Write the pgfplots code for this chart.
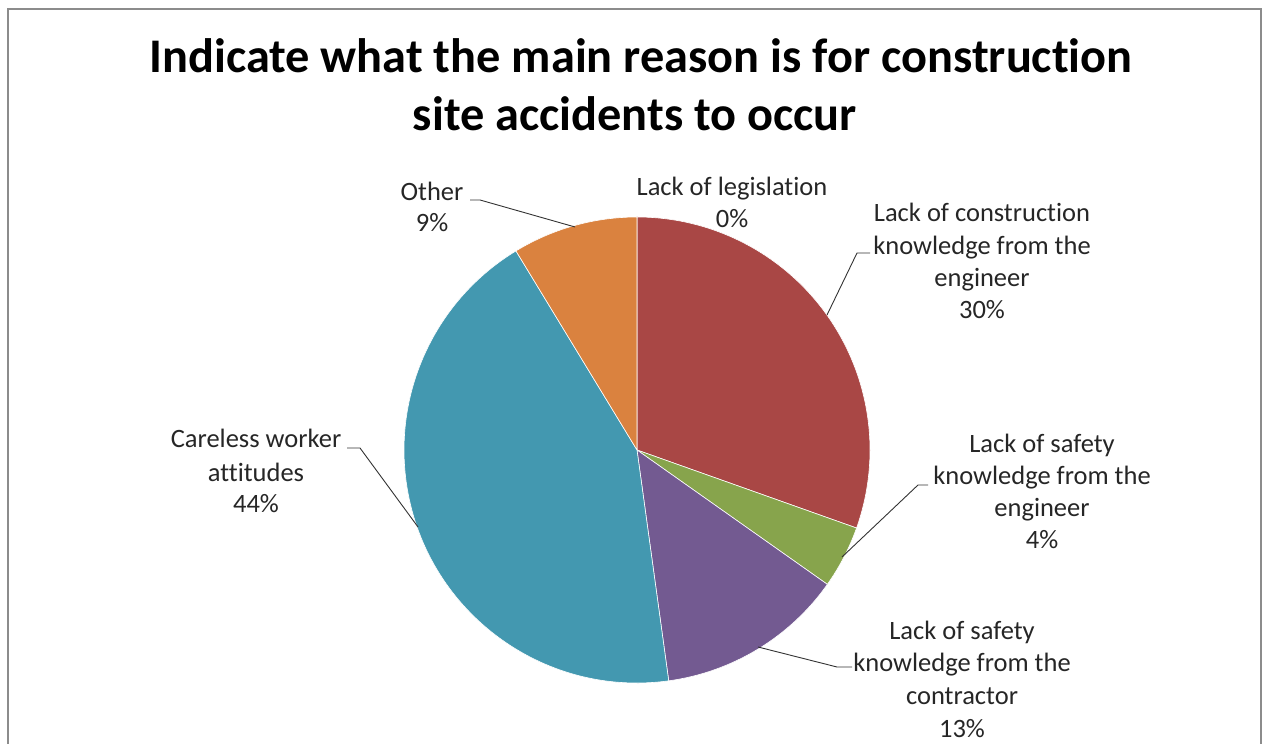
\documentclass[border=0pt]{standalone}
\usepackage{pgfplots}
\usepackage{pgfplotstable}
\pgfplotsset{compat=1.18}
\usepackage{fontspec}
\setmainfont{Carlito}[RawFeature={-liga;-clig;-dlig}]
\definecolor{slice0}{HTML}{4F81BD}
\definecolor{slice1}{HTML}{A94745}
\definecolor{slice2}{HTML}{87A44C}
\definecolor{slice3}{HTML}{735A91}
\definecolor{slice4}{HTML}{4398B0}
\definecolor{slice5}{HTML}{DA823F}
\definecolor{txt}{HTML}{262626}
\definecolor{frame}{HTML}{8C8C8C}
% responses (23 in total), clockwise from the top
\pgfplotstableread{
value
0
7
1
3
10
2
}\piedata
\begin{document}
\begin{tikzpicture}
\begin{axis}[
  width=1265bp, height=744bp, scale only axis,
  xmin=0, xmax=1265, ymin=0, ymax=744,
  hide axis, clip=false,
]
\pgfplotstablegetrowsof{\piedata}
\pgfmathtruncatemacro\nrows{\pgfplotsretval-1}
\def\cumul{0}
\pgfplotsforeachungrouped \i in {0,...,\nrows}{%
  \pgfplotstablegetelem{\i}{value}\of\piedata
  \pgfmathsetmacro\va{\pgfplotsretval}%
  \pgfmathsetmacro\starta{90-360*\cumul/23}%
  \pgfmathsetmacro\enda{90-360*(\cumul+\va)/23}%
  \pgfmathsetmacro\sx{637+233*cos(\starta)}%
  \pgfmathsetmacro\sy{294+233*sin(\starta)}%
  \pgfmathsetmacro\cumul{\cumul+\va}%
  \edef\temp{\noexpand\fill[slice\i, draw=white, line width=0.6bp, line join=round]
    (axis cs:637,294) -- (axis cs:\sx,\sy) arc[start angle=\starta, end angle=\enda, radius=233bp] -- cycle;}%
  \temp
}
% frame
\draw[frame, line width=2.5bp] (axis cs:8,-10) -- (axis cs:8,735) -- (axis cs:1261,735) -- (axis cs:1261,-10);
% leader lines
\draw[black!80, line width=0.9bp] (axis cs:470,544) -- (axis cs:480,544) -- (axis cs:575,517);
\draw[black!80, line width=0.9bp] (axis cs:870,491) -- (axis cs:857,491) -- (axis cs:827,429);
\draw[black!80, line width=0.9bp] (axis cs:928,259) -- (axis cs:918,259) -- (axis cs:842,187);
\draw[black!80, line width=0.9bp] (axis cs:852,77) -- (axis cs:837,77) -- (axis cs:758,97);
\draw[black!80, line width=0.9bp] (axis cs:347,296) -- (axis cs:360,296) -- (axis cs:418,217);
% title
\begin{scope}[every node/.style={anchor=base, inner sep=0pt, font=\fontsize{48.5}{56}\selectfont\bfseries}]
\node at (axis cs:641,671) {Indicate what the main reason is for construction};
\node at (axis cs:635,613) {site accidents to occur};
\end{scope}
% labels
\begin{scope}[every node/.style={anchor=base, inner sep=0pt, text=txt, font=\fontsize{26.6}{32}\selectfont}]
\node at (axis cs:432,543) {Other};
\node at (axis cs:432,512) {9\%};
\node at (axis cs:732,548) {Lack of legislation};
\node at (axis cs:732,516) {0\%};
\node at (axis cs:982,522) {Lack of construction};
\node at (axis cs:982,489) {knowledge from the};
\node at (axis cs:982,457) {engineer};
\node at (axis cs:982,425) {30\%};
\node at (axis cs:1042,291) {Lack of safety};
\node at (axis cs:1042,259) {knowledge from the};
\node at (axis cs:1042,227) {engineer};
\node at (axis cs:1042,195) {4\%};
\node at (axis cs:962,104) {Lack of safety};
\node at (axis cs:962,72) {knowledge from the};
\node at (axis cs:962,39) {contractor};
\node at (axis cs:962,7) {13\%};
\node at (axis cs:256,296) {Careless worker};
\node at (axis cs:256,262) {attitudes};
\node at (axis cs:256,231) {44\%};
\end{scope}
\end{axis}
\pgfresetboundingbox
\path (0,0) rectangle (1265bp,744bp);
\end{tikzpicture}
\end{document}
